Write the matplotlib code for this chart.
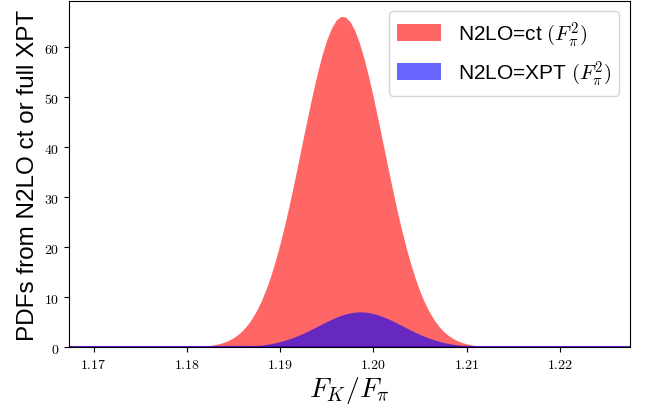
import numpy as np
import matplotlib
matplotlib.use('Agg')
import matplotlib.pyplot as plt
from matplotlib.ticker import FuncFormatter

plt.rcParams['mathtext.fontset'] = 'cm'
plt.rcParams['font.family'] = ['Liberation Sans', 'DejaVu Sans']

# F_K/F_pi grid: 1.179 .. 1.215 in steps of 0.0005, plus the far ends (pdf = 0)
x_core = np.round(np.arange(11790, 12151, 5) / 10000.0, 4)
fk_fpi = np.concatenate([[1.165], x_core, [1.230]])

# PDF, N2LO=ct (F_pi^2)
pdf_ct = [0,
          0.02, 0.03, 0.05, 0.08, 0.11, 0.17, 0.25, 0.36, 0.52, 0.74,       # 1.1790-1.1835
          1.03, 1.42, 1.93, 2.59, 3.44, 4.51, 5.83, 7.44, 9.37, 11.66,      # 1.1840-1.1885
          14.32, 17.35, 20.77, 24.53, 28.61, 32.93, 37.42, 41.98, 46.49, 50.81,  # 1.1890-1.1935
          54.84, 58.42, 61.44, 63.78, 65.37, 66.13, 66.05, 65.11, 63.37, 60.89,  # 1.1940-1.1985
          57.75, 54.07, 49.97, 45.59, 41.07, 36.51, 32.05, 27.77, 23.75, 20.06,  # 1.1990-1.2035
          16.72, 13.76, 11.17, 8.96, 7.09, 5.54, 4.27, 3.25, 2.45, 1.82,    # 1.2040-1.2085
          1.33, 0.96, 0.69, 0.48, 0.34, 0.23, 0.16, 0.10, 0.07, 0.05,       # 1.2090-1.2135
          0.03, 0.02, 0.01,                                                 # 1.2140-1.2150
          0]

# PDF, N2LO=XPT (F_pi^2)
pdf_xpt = [0,
           0, 0, 0, 0, 0, 0, 0.01, 0.01, 0.02, 0.03,
           0.04, 0.05, 0.07, 0.10, 0.14, 0.19, 0.26, 0.34, 0.44, 0.57,
           0.73, 0.92, 1.14, 1.41, 1.71, 2.05, 2.42, 2.83, 3.27, 3.74,
           4.21, 4.69, 5.16, 5.60, 6.01, 6.37, 6.67, 6.89, 7.04, 7.10,
           7.07, 6.96, 6.76, 6.49, 6.16, 5.77, 5.34, 4.88, 4.40, 3.92,
           3.46, 3.01, 2.58, 2.19, 1.84, 1.52, 1.24, 1.00, 0.80, 0.63,
           0.49, 0.38, 0.29, 0.22, 0.16, 0.12, 0.08, 0.06, 0.04, 0.03,
           0.02, 0.02, 0.01,
           0]

labels = [r'N2LO=ct $(F_\pi^2)$', r'N2LO=XPT $(F_\pi^2)$']

fig = plt.figure(figsize=(6.54, 4.06), dpi=100)
ax = fig.add_axes([0.106, 0.142, 0.857, 0.854])

ax.fill_between(fk_fpi, 0, pdf_ct, color='red', alpha=0.6, lw=0, label=labels[0])
ax.fill_between(fk_fpi, 0, pdf_xpt, color='blue', alpha=0.6, lw=0, label=labels[1])
# edges of the two fills along zero
ax.axhline(0, color='red', alpha=0.6, lw=1.5)
ax.axhline(0, color='blue', alpha=0.6, lw=1.5)

ax.set_xlim(1.1674, 1.2275)
ax.set_ylim(0, 69.3)
ax.set_xticks([1.17, 1.18, 1.19, 1.20, 1.21, 1.22])
ax.set_yticks([0, 10, 20, 30, 40, 50, 60])
ax.xaxis.set_major_formatter(FuncFormatter(lambda v, p: f'${v:.2f}$'))
ax.yaxis.set_major_formatter(FuncFormatter(lambda v, p: f'${v:.0f}$'))
ax.tick_params(labelsize=10)

ax.set_xlabel(r'$F_K/F_\pi$', fontsize=20, labelpad=2)
ax.set_ylabel('PDFs from N2LO ct or full XPT', fontsize=17.5, labelpad=4)

ax.legend(loc='upper right', fontsize=15, handlelength=2.1, handleheight=0.82)

fig.savefig('out.png', dpi=100)
